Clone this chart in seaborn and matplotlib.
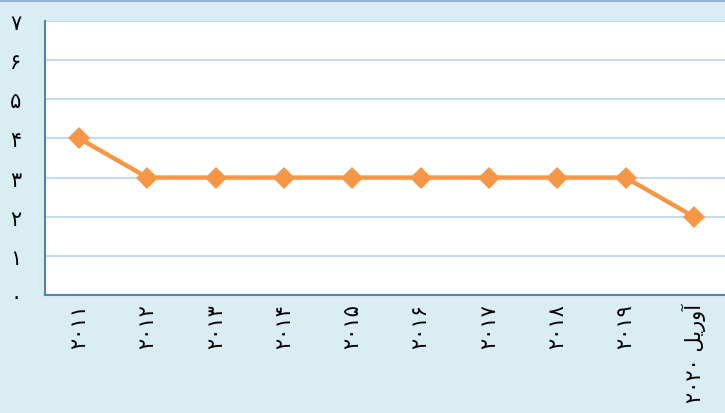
import numpy as np
import pandas as pd
import matplotlib.pyplot as plt
import seaborn as sns

# data
years = ['۲۰۱۱', '۲۰۱۲', '۲۰۱۳', '۲۰۱۴', '۲۰۱۵', '۲۰۱۶', '۲۰۱۷', '۲۰۱۸', '۲۰۱۹',
         '۲۰۲۰ ﻞﯾﺭﻭﺁ']   # "آوریل ۲۰۲۰" in visual order
values = [4, 3, 3, 3, 3, 3, 3, 3, 3, 2]
y_labels = ['۰', '۱', '۲', '۳', '۴', '۵', '۶', '۷']

df = pd.DataFrame({'pos': np.arange(len(years)), 'value': values})

sns.set_style('white')
plt.rcParams['font.family'] = ['DejaVu Sans']

bg = '#DAEDF3'
fig = plt.figure(figsize=(7.25, 4.14), dpi=100, facecolor=bg)
ax = fig.add_axes([45 / 725, 118 / 414, 683 / 725, 274 / 414])
ax.set_facecolor('white')

sns.lineplot(data=df, x='pos', y='value', ax=ax,
             color='#F79646', linewidth=3.2,
             marker='D', markersize=11, markeredgewidth=0)

ax.set_xlim(-0.5, len(years) - 0.5)
ax.set_ylim(0, 7)
ax.set_yticks(range(len(y_labels)))
ax.set_yticklabels(y_labels, fontsize=15, color='black')
ax.grid(axis='y', color='#C6D9EE', linewidth=1.5)
ax.set_axisbelow(True)

ax.set_xticks(df['pos'])
ax.set_xticklabels(years, rotation=90, fontsize=15, color='black', va='top', ha='center')
ax.set_xticks(np.arange(-0.5, len(years)), minor=True)
ax.tick_params(axis='x', which='major', length=0, pad=6)
ax.tick_params(axis='x', which='minor', length=5, width=1.2, color='#4F81BD', direction='out')
for lbl in ax.get_yticklabels():
    lbl.set_horizontalalignment('center')
ax.tick_params(axis='y', length=0, pad=21)

for s in ['top', 'right']:
    ax.spines[s].set_visible(False)
for s in ['left', 'bottom']:
    ax.spines[s].set_color('#4F81BD')
    ax.spines[s].set_linewidth(1.5)

ax.set_xlabel('')
ax.set_ylabel('')

fig.add_artist(plt.Line2D([0, 1], [0.997, 0.997], transform=fig.transFigure,
                          color='#95B3D7', linewidth=3))

plt.savefig('out.png', dpi=100, facecolor=bg)
